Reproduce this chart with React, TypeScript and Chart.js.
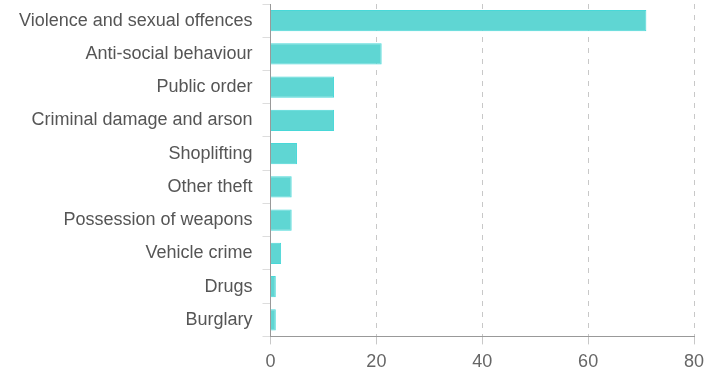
import React, { useEffect, useRef } from "react";
import { Chart, registerables } from "chart.js";

Chart.register(...registerables);

const categories = [
  "Violence and sexual offences",
  "Anti-social behaviour",
  "Public order",
  "Criminal damage and arson",
  "Shoplifting",
  "Other theft",
  "Possession of weapons",
  "Vehicle crime",
  "Drugs",
  "Burglary",
];
const counts = [71, 21, 12, 12, 5, 4, 4, 2, 1, 1];
const xMin = 0;
const xMax = 80;
const xStep = 20;

export default function App() {
  const ref = useRef<HTMLCanvasElement | null>(null);
  useEffect(() => {
    if (!ref.current) return;
    const noOverhang = (s: any) => {
      s.paddingTop = 0;
      s.paddingBottom = 0;
      s.paddingLeft = 0;
      s.paddingRight = 0;
    };
    const chart = new Chart(ref.current, {
      type: "bar",
      data: {
        labels: categories,
        datasets: [
          {
            data: counts,
            backgroundColor: "#5fd6d3",
            borderColor: "#48d8d8",
            borderWidth: 1,
            barPercentage: 0.8,
            categoryPercentage: 0.8,
          },
        ],
      },
      options: {
        indexAxis: "y",
        animation: false,
        responsive: false,
        maintainAspectRatio: false,
        layout: { padding: { top: 4, right: 13, left: 9, bottom: 0 } },
        plugins: { legend: { display: false }, tooltip: { enabled: false } },
        scales: {
          x: {
            min: xMin,
            max: xMax,
            afterFit: (s: any) => {
              noOverhang(s);
              s.height -= 7;
            },
            ticks: { stepSize: xStep, padding: 7, color: "#666", font: { size: 18, family: "Liberation Sans, Arial, sans-serif" } },
            grid: { color: "#c8c8c8", tickLength: 8 },
            border: { color: "#999", dash: [5, 6], display: true },
          },
          y: {
            afterFit: noOverhang,
            ticks: { color: "#555", padding: 10, font: { size: 18, family: "Liberation Sans, Arial, sans-serif" } },
            grid: { drawOnChartArea: false, color: "#ddd", tickLength: 8 },
            border: { color: "#999" },
          },
        },
      },
    });
    return () => chart.destroy();
  }, []);
  return (
    <div style={{ position: "fixed", left: 0, top: 0, width: 707, height: 373, background: "#fff", overflow: "hidden" }}>
      <canvas ref={ref} width={707} height={373} style={{ display: "block" }} />
    </div>
  );
}
